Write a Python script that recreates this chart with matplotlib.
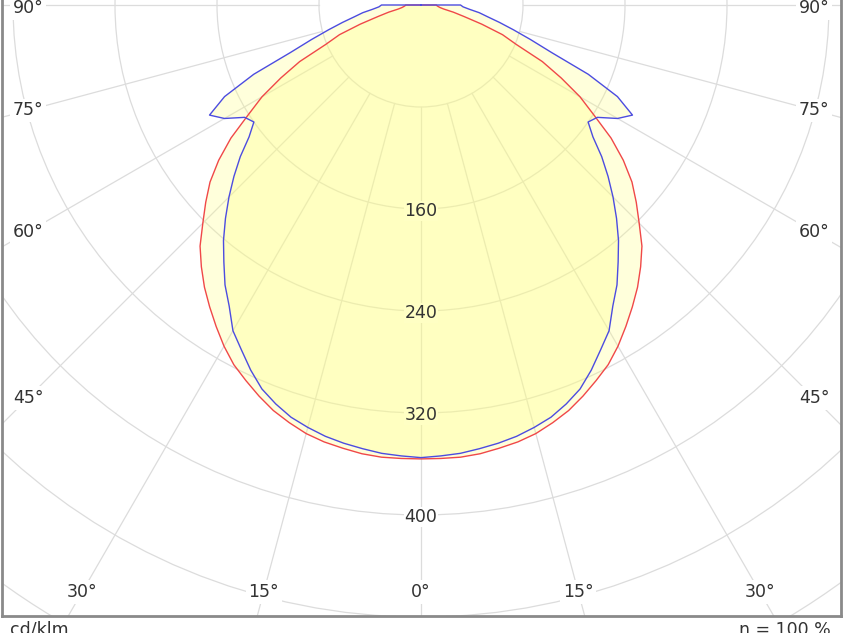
import numpy as np
import matplotlib.pyplot as plt
from matplotlib.patches import Circle

# intensity curves in cd/klm, symmetric, angle measured from nadir (2.5 deg steps)
angles = [0, 2.5, 5, 7.5, 10, 12.5, 15, 17.5, 20, 22.5, 25, 27.5, 30, 32.5, 35, 37.5,
          40, 42.5, 45, 47.5, 50, 52.5, 55, 57.5, 60, 62.5, 65, 67.5, 70, 72.5, 75,
          77.5, 80, 82.5, 85, 87.5, 90]
red_cd = [356, 356, 356, 355, 353, 351, 348, 343.5, 338.5, 332, 325, 318, 309, 299, 289, 279,
          268, 256.5, 242, 229, 216, 200, 182, 161, 144, 124, 105, 81, 68, 50, 35,
          26, 18, 15, 13.5, 12.5, 12]
blue_cd = [355, 354, 353, 351, 349, 346.5, 343, 339, 333, 326, 316, 305, 295, 280, 268, 254,
           241, 227, 213, 199, 185, 170, 160, 164, 178, 187, 170, 142, 109, 90, 75,
           63, 53, 46, 38, 33, 31]

ring_values = [80, 160, 240, 320, 400, 480, 560, 640, 720]
ring_labels = [160, 240, 320, 400]
angle_ticks = [0, 15, 30, 45, 60, 75, 90]

# pixel scale of the original diagram: 1.275 px per cd/klm, centre 5 px below top
S = 1.275
W, H = 844, 633
LEFT, RIGHT, BOTTOM, CY = 1.5, 841, 616, 5

GRID = "#dcdcdc"
TXT = "#333333"


def to_xy(angles, vals):
    a = np.radians(angles)
    v = np.asarray(vals, dtype=float)
    return v * np.sin(a), -v * np.cos(a)


def closed_curve(angles, vals):
    x, y = to_xy(angles, vals)
    # mirror to the other side and close through the centre
    xs = np.concatenate([[0], -x[::-1], x[1:], [0]])
    ys = np.concatenate([[0], y[::-1], y[1:], [0]])
    return xs, ys


fig = plt.figure(figsize=(W / 100, H / 100), dpi=100)
ax = fig.add_axes([LEFT / W, (H - BOTTOM) / H, (RIGHT - LEFT) / W, BOTTOM / H])
ax.set_xlim((LEFT - 421) / S, (RIGHT - 421) / S)
ax.set_ylim(-(BOTTOM - CY) / S, CY / S)
ax.set_xticks([])
ax.set_yticks([])
for side in ["left", "right", "bottom"]:
    ax.spines[side].set_color("#8a8a8a")
    ax.spines[side].set_linewidth(2)
ax.spines["top"].set_visible(False)

# grid
for r in ring_values:
    ax.add_patch(Circle((0, 0), r, fill=False, ec=GRID, lw=0.9, zorder=1))
for a in range(-90, 91, 15):
    t = np.radians(a)
    ax.plot([80 * np.sin(t), 900 * np.sin(t)], [-80 * np.cos(t), -900 * np.cos(t)],
            color=GRID, lw=0.9, zorder=1)

# fills and curves
rx, ry = closed_curve(angles, red_cd)
bx, by = closed_curve(angles, blue_cd)
ax.fill(rx, ry, color="#ffff80", alpha=0.28, lw=0, zorder=2)
ax.fill(bx, by, color="#ffff80", alpha=0.28, lw=0, zorder=2)
ax.plot(rx, ry, color="#f04848", lw=1.0, zorder=4)
ax.plot(bx, by, color="#4c4ce0", lw=1.0, zorder=5)

# ring value labels
for r in ring_labels:
    bg = "#ffffc4" if r < 350 else "white"
    ax.text(0, -r - 2 / S, str(r), ha="center", va="center", fontsize=12.5, color=TXT,
            bbox=dict(boxstyle="square,pad=0.05", fc=bg, ec="none"), zorder=6)

# angle labels on the radial lines near the frame
for a in angle_ticks:
    t = np.radians(a)
    if a <= 30:
        y = -(587 / S)
        x = -y * np.tan(t)
    else:
        x = 393 / S
        y = min(-x * np.cos(t) / np.sin(t), -3 / S)
    for sx in ([1] if a == 0 else [-1, 1]):
        ax.text(sx * x, y, f"{a}°", ha="center", va="center", fontsize=12.5, color=TXT,
                bbox=dict(boxstyle="square,pad=0.15", fc="white", ec="none"), zorder=6)

fig.text(10 / W, (H - 621) / H, "cd/klm", ha="left", va="top", fontsize=12.5, color=TXT)
fig.text(831 / W, (H - 621) / H, "η = 100 %", ha="right", va="top", fontsize=12.5, color=TXT)

fig.savefig("out.png", dpi=100)
